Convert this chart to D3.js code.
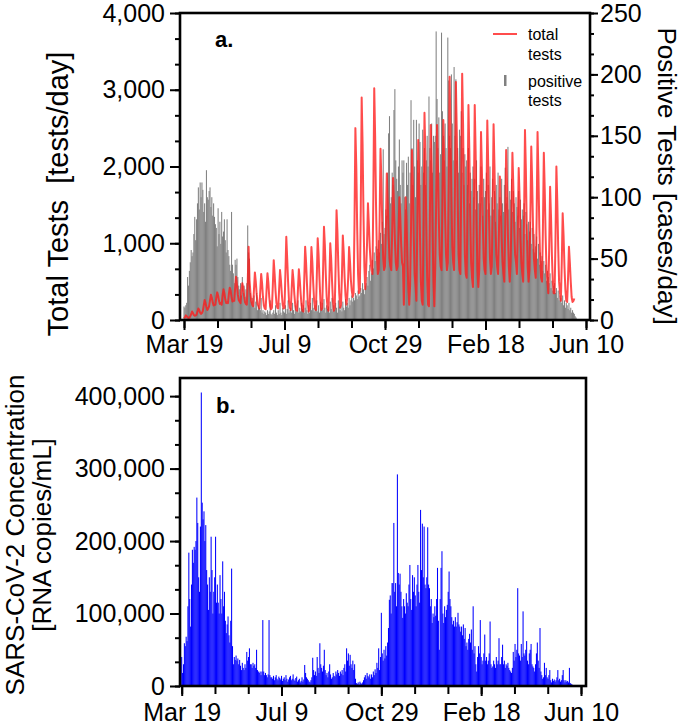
<!DOCTYPE html>
<html><head><meta charset="utf-8">
<script src="https://cdn.jsdelivr.net/npm/d3@7"></script>
<style>
body{margin:0;background:#fff;}
text{font-family:"Liberation Sans",Arial,Helvetica,sans-serif;}
</style></head><body>
<svg id="c" width="685" height="725"></svg>
<script>
// ---------------- DATA ----------------
// x axis: days since Mar 19 (2020)
const tickDays = [0, 112, 224, 336, 448];
const tickLabels = ["Mar 19", "Jul 9", "Oct 29", "Feb 18", "Jun 10"];
const leftTicks = [0, 1000, 2000, 3000, 4000];
const rightTicks = [0, 50, 100, 150, 200, 250];
const concTicksK = [0, 100, 200, 300, 400];

// total tests per day (left axis)
const totalTests = [
20,35,60,50,35,25,30, 50,75,110,90,65,55,60, 70,110,150,130,95,80,90, 120,190,260,220,170,130,150,
180,260,330,290,230,190,200, 200,290,360,320,250,210,220, 200,320,400,350,270,220,230, 220,340,420,380,300,240,250,
250,420,565,460,330,260,240, 220,380,480,420,310,230,210, 200,480,955,520,360,240,200, 180,400,620,500,330,210,180,
150,380,600,480,300,190,150, 140,390,610,490,300,180,140, 160,450,780,600,380,220,160, 150,400,650,520,340,200,150,
160,600,1085,800,500,250,160, 130,400,650,520,330,190,130, 120,400,660,530,340,190,120, 110,520,955,760,480,220,110,
150,520,950,760,480,250,150, 130,560,1065,850,530,260,130, 150,650,1215,970,600,300,150, 120,520,1000,800,500,250,120,
160,720,1430,1150,700,350,160, 200,580,1100,880,550,320,200, 300,560,950,760,520,380,300, 350,1250,2500,2000,1200,600,350,
400,1450,2900,2300,1400,700,400, 650,1000,1520,1250,950,750,650, 600,1600,3020,2400,1500,850,600, 650,1300,2230,1800,1200,800,650,
700,1200,1910,1550,1100,800,700, 650,1150,1850,1500,1050,750,650, 700,1100,1600,1350,1000,750,700, 200,900,1600,1300,800,400,200,
450,1200,2215,1800,1100,600,450, 250,1200,2345,1900,1100,500,250, 200,1350,2700,2150,1250,550,200, 180,1300,2540,2000,1200,500,180,
700,1500,2540,2000,1300,850,700, 650,1500,2605,2100,1350,850,650, 750,1800,3170,2500,1600,950,750, 650,1750,3100,2450,1550,850,650,
600,1800,3210,2550,1550,850,600, 550,1550,2800,2200,1350,750,550, 430,1500,2800,2200,1300,650,430, 650,1400,2450,1950,1250,800,650,
600,1450,2600,2050,1300,800,600, 700,1500,2550,2000,1300,850,700, 600,1150,1870,1500,1050,750,600, 500,1250,2215,1750,1100,700,500,
750,1350,2180,1750,1200,850,750, 600,1200,1980,1600,1050,750,600, 500,1350,2475,1950,1200,700,500, 650,1350,2260,1800,1200,800,650,
550,1350,2450,1900,1200,750,550, 500,1200,2180,1700,1100,650,500, 350,950,1735,1350,850,500,350, 350,1050,2000,1550,950,500,350,
250,750,1390,1100,700,400,250, 235,550,955,750,500,300,235, 250,280
];

// positive tests per day (right axis)
const positiveTests = [
11,10,12,14,35,28,40, 47,57,52,55,70,84,65, 82,95,108,90,112,100,112, 106,88,95,80,122,100,98,
105,108,92,100,85,95,84, 78,75,60,91,70,80,62, 88,68,72,82,65,55,82, 57,52,45,40,88,45,38,
30,49,45,50,35,28,25, 30,20,35,22,28,19,25, 30,77,55,50,22,15,18, 12,20,10,15,22,8,12,
10,8,18,6,8,5,7, 6,4,8,5,7,16,5, 4,6,8,5,12,6,4, 8,5,14,6,4,10,7,
6,12,5,9,16,6,8, 10,6,14,8,5,12,7, 8,16,6,10,7,14,9, 12,6,10,16,8,5,12,
6,14,8,18,10,7,12, 9,16,7,12,6,15,10, 14,8,17,10,6,12,9, 11,6,15,9,18,7,12,
8,14,10,6,16,11,8, 12,7,15,10,8,17,11, 14,10,18,12,16,20,15, 18,16,22,20,17,24,19,
20,26,22,30,25,21,28, 30,35,28,40,45,32,38, 49,42,55,48,60,52,58, 65,55,71,62,80,139,70,
75,90,85,120,152,166,95, 100,120,110,171,188,130,115, 105,125,147,110,95,130,120, 130,100,90,128,110,133,95,
120,179,140,110,163,125,100, 163,130,120,160,145,110,125, 155,120,140,110,130,150,125, 182,140,130,160,120,150,145,
150,235,180,140,165,120,135, 234,170,150,130,160,140,125, 230,195,150,140,200,160,130, 206,150,196,130,140,120,155,
150,170,120,140,110,135,125, 130,110,140,95,120,105,115, 125,100,115,90,130,105,95, 110,95,125,100,85,115,100,
105,120,90,110,95,125,85, 100,115,90,105,80,110,95, 120,90,100,85,115,95,88, 110,124,95,100,141,90,105,
98,115,88,105,95,80,100, 92,85,105,75,98,82,90, 85,95,70,88,78,65,80, 72,80,62,75,58,70,55,
60,68,50,62,45,55,48, 52,40,48,38,45,32,40, 35,30,38,26,32,24,28, 30,22,26,18,24,16,20,
18,14,20,12,16,10,14, 12,9,14,8,10,6,8, 6,5,3,2
];

// SARS-CoV-2 concentration, thousands of RNA copies/mL per day
const rnaConcK = [
40,18,30,59,55,68,62,110,184,120, 82,140,188,170,192,188,200,260,225,150,
130,220,405,253,230,241,200,222,160,140, 105,150,130,206,160,100,130,150,206,115,
140,115,100,153,120,100,172,110,130,90, 73,85,96,70,60,90,162,55,30,40,
36,42,35,38,30,36,28,22,32,25, 22,30,25,47,35,40,52,30,30,25,
32,28,30,25,50,22,20,18,20,15, 20,91,20,15,18,15,12,16,91,15,
12,12,10,14,8,12,15,10,8,13, 11,9,14,7,10,12,8,15,10,6,
9,12,14,8,10,16,9,7,11,13, 6,8,10,5,7,12,6,9,29,18,
12,10,8,6,5,8,12,39,22,15, 20,14,40,25,18,59,30,25,20,28,
50,22,15,18,12,20,30,16,10,12, 18,14,13,20,16,22,18,14,20,17,
22,15,25,30,20,52,35,45,28,43, 30,25,35,22,30,10,4,3,5,2,
6,4,3,5,8,12,15,10,18,14, 12,16,10,16,12,20,15,23,18,32,
25,52,22,40,101,45,35,50,38,55, 42,60,80,119,125,100,142,142,225,130,
142,110,292,156,140,155,130,110,94,120, 110,100,128,115,110,140,167,120,105,153,
130,150,125,110,140,167,130,115,243,160, 224,150,220,140,135,150,219,140,135,110,
120,87,100,95,110,97,120,163,90,50, 120,163,186,100,87,110,95,105,112,130,
158,120,110,95,85,90,82,95,82,88, 101,85,82,75,82,70,85,65,80,55,
60,50,65,72,60,78,50,110,45,55, 30,20,40,55,45,91,40,30,35,45,
71,35,40,30,35,45,89,30,25,27, 35,30,25,40,30,35,66,30,30,40,
57,30,35,25,30,28,32,25,22,20, 18,25,47,35,58,40,50,135,45,42,
35,58,40,103,45,42,50,62,35,30, 45,50,58,30,27,25,20,30,45,60,
35,25,80,20,15,10,12,32,15,25, 12,10,15,22,8,5,10,7,9,6,
8,12,22,8,10,6,8,15,22,8, 5,8,6,7,5,25,4,3,2
];

// ---------------- DRAW ----------------
const FONT = '"Liberation Sans", Arial, Helvetica, sans-serif';
const svg = d3.select("#c");
const fmt = d3.format(",");
const minorX = d3.range(13).map(i => i * 112 / 3);

function styleAxis(g, fs) {
  g.attr("font-size", fs).attr("font-family", FONT);
  g.select(".domain").remove();
  g.selectAll(".tick line").attr("stroke", "#000").attr("stroke-width", 2);
  g.selectAll(".tick text").attr("fill", "#000");
}
function frame(g, x0, x1, y0, y1) {
  g.append("rect").attr("x", x0).attr("y", y0).attr("width", x1 - x0).attr("height", y1 - y0)
    .attr("fill", "none").attr("stroke", "#000").attr("stroke-width", 2.6);
}

// ===== Panel a =====
const A = {x0: 180, x1: 590, y0: 13, y1: 320};
const xA = d3.scaleLinear().domain([0, 448]).range([184, 586]);
const yL = d3.scaleLinear().domain([0, 4000]).range([A.y1, A.y0]);
const yR = d3.scaleLinear().domain([0, 250]).range([A.y1, A.y0]);
const gA = svg.append("g");

gA.append("g").selectAll("rect").data(positiveTests).join("rect")
  .attr("x", (d, i) => xA(i) - 0.52).attr("width", 1.04)
  .attr("y", d => yR(d)).attr("height", d => yR(0) - yR(d))
  .attr("fill", "#808080");

gA.append("path").datum(totalTests)
  .attr("d", d3.line().x((d, i) => xA(i)).y(d => yL(d)))
  .attr("fill", "none").attr("stroke", "#ff1a1a").attr("stroke-opacity", 0.78)
  .attr("stroke-width", 2).attr("stroke-linejoin", "round");

frame(gA, A.x0, A.x1, A.y0, A.y1);

// left axis
gA.append("g").attr("transform", `translate(${A.x0},0)`)
  .call(d3.axisLeft(yL).tickValues(d3.range(13).map(i => i * 1000 / 3)).tickSize(5).tickFormat(""))
  .call(g => styleAxis(g, 25));
gA.append("g").attr("transform", `translate(${A.x0},0)`)
  .call(d3.axisLeft(yL).tickValues(leftTicks).tickSize(10).tickPadding(5).tickFormat(fmt))
  .call(g => styleAxis(g, 25));
// right axis
gA.append("g").attr("transform", `translate(${A.x1},0)`)
  .call(d3.axisRight(yR).tickValues(d3.range(16).map(i => i * 50 / 3)).tickSize(4).tickFormat(""))
  .call(g => styleAxis(g, 25));
gA.append("g").attr("transform", `translate(${A.x1},0)`)
  .call(d3.axisRight(yR).tickValues(rightTicks).tickSize(8).tickPadding(2))
  .call(g => styleAxis(g, 25));
// bottom axis
gA.append("g").attr("transform", `translate(0,${A.y1})`)
  .call(d3.axisBottom(xA).tickValues(minorX).tickSize(8).tickFormat(""))
  .call(g => styleAxis(g, 25));
gA.append("g").attr("transform", `translate(0,${A.y1})`)
  .call(d3.axisBottom(xA).tickValues(tickDays).tickSize(10).tickPadding(5).tickFormat((d, i) => tickLabels[i]))
  .call(g => styleAxis(g, 25));

// titles
gA.append("text").attr("transform", "translate(68,194) rotate(-90)")
  .attr("text-anchor", "middle").attr("font-size", 29).style("white-space", "pre")
  .text("Total Tests  [tests/day]");
gA.append("text").attr("transform", "translate(658,176) rotate(90)")
  .attr("text-anchor", "middle").attr("font-size", 26)
  .text("Positive Tests [cases/day]");
gA.append("text").attr("x", 215).attr("y", 47).attr("font-size", 22).attr("font-weight", "bold").text("a.");

// legend
gA.append("line").attr("x1", 493).attr("x2", 517).attr("y1", 34).attr("y2", 34)
  .attr("stroke", "#ff1a1a").attr("stroke-opacity", 0.78).attr("stroke-width", 2);
gA.append("rect").attr("x", 504).attr("y", 75).attr("width", 2.5).attr("height", 11).attr("fill", "#808080");
const legT = gA.append("g").attr("font-size", 16).attr("fill", "#000");
legT.append("text").attr("x", 528).attr("y", 40).text("total");
legT.append("text").attr("x", 528).attr("y", 60).text("tests");
legT.append("text").attr("x", 528).attr("y", 87).text("positive");
legT.append("text").attr("x", 528).attr("y", 106).text("tests");

// ===== Panel b =====
const B = {x0: 180, x1: 586, y0: 378, y1: 686};
const xB = d3.scaleLinear().domain([0, 448]).range([181.7, 581]);
const yB = d3.scaleLinear().domain([0, 425]).range([B.y1, B.y0]);
const gB = svg.append("g");

gB.append("g").selectAll("rect").data(rnaConcK).join("rect")
  .attr("x", (d, i) => xB(i) - 0.52).attr("width", 1.04)
  .attr("y", d => yB(d)).attr("height", d => yB(0) - yB(d))
  .attr("fill", "#0000ff");

frame(gB, B.x0, B.x1, B.y0, B.y1);

gB.append("g").attr("transform", `translate(${B.x0},0)`)
  .call(d3.axisLeft(yB).tickValues(d3.range(13).map(i => i * 100 / 3)).tickSize(5).tickFormat(""))
  .call(g => styleAxis(g, 25));
gB.append("g").attr("transform", `translate(${B.x0},0)`)
  .call(d3.axisLeft(yB).tickValues(concTicksK).tickSize(10).tickPadding(5).tickFormat(d => fmt(d * 1000)))
  .call(g => styleAxis(g, 25));
gB.append("g").attr("transform", `translate(0,${B.y1})`)
  .call(d3.axisBottom(xB).tickValues(minorX).tickSize(8).tickFormat(""))
  .call(g => styleAxis(g, 25));
gB.append("g").attr("transform", `translate(0,${B.y1})`)
  .call(d3.axisBottom(xB).tickValues(tickDays).tickSize(10).tickPadding(7).tickFormat((d, i) => tickLabels[i]))
  .call(g => styleAxis(g, 25));

gB.append("text").attr("transform", "translate(24,535) rotate(-90)")
  .attr("text-anchor", "middle").attr("font-size", 26).text("SARS-CoV-2 Concentration");
gB.append("text").attr("transform", "translate(51,535) rotate(-90)")
  .attr("text-anchor", "middle").attr("font-size", 26).text("[RNA copies/mL]");
gB.append("text").attr("x", 216).attr("y", 413).attr("font-size", 22).attr("font-weight", "bold").text("b.");
</script>
</body></html>
